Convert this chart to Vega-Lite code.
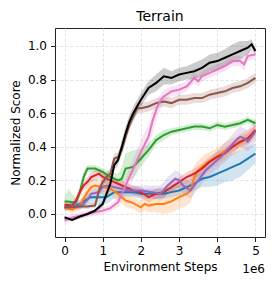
{
  "$schema": "https://vega.github.io/schema/vega-lite/v6.json",
  "width": 210,
  "height": 209,
  "autosize": {"type": "none"},
  "padding": {"left": 55, "top": 28, "right": 10, "bottom": 48},
  "background": "white",
  "title": {"text": "Terrain", "fontSize": 14, "fontWeight": "normal", "font": "DejaVu Sans", "color": "black", "offset": 4},
  "config": {
    "view": {"stroke": "#222", "strokeWidth": 1},
    "axis": {
      "domain": false,
      "grid": true,
      "gridColor": "#dcdcdc",
      "gridDash": [3, 2],
      "gridWidth": 0.8,
      "tickColor": "#222",
      "tickSize": 4.5,
      "labelFont": "DejaVu Sans",
      "labelFontSize": 12,
      "labelColor": "black",
      "titleFont": "DejaVu Sans",
      "titleFontSize": 12,
      "titleFontWeight": "normal",
      "titleColor": "black"
    }
  },
  "datasets": {
    "note": [{"nx": 5.25, "ny": -0.137, "t": "1e6"}],
    "runs": [
    {"s":"l","x":0,"y":0.04,"lo":0.02,"hi":0.06},
    {"s":"l","x":0.2,"y":0.045,"lo":0.025,"hi":0.065},
    {"s":"l","x":0.4,"y":0.06,"lo":0.035,"hi":0.085},
    {"s":"l","x":0.6,"y":0.09,"lo":0.06,"hi":0.12},
    {"s":"l","x":0.7,"y":0.10,"lo":0.06,"hi":0.13},
    {"s":"l","x":0.9,"y":0.10,"lo":0.05,"hi":0.14},
    {"s":"l","x":1.1,"y":0.10,"lo":0.06,"hi":0.14},
    {"s":"l","x":1.3,"y":0.13,"lo":0.09,"hi":0.16},
    {"s":"l","x":1.5,"y":0.13,"lo":0.10,"hi":0.16},
    {"s":"l","x":1.8,"y":0.13,"lo":0.10,"hi":0.16},
    {"s":"l","x":2.0,"y":0.12,"lo":0.09,"hi":0.15},
    {"s":"l","x":2.2,"y":0.12,"lo":0.09,"hi":0.15},
    {"s":"l","x":2.4,"y":0.12,"lo":0.09,"hi":0.15},
    {"s":"l","x":2.6,"y":0.12,"lo":0.09,"hi":0.15},
    {"s":"l","x":2.8,"y":0.13,"lo":0.10,"hi":0.16},
    {"s":"l","x":3.0,"y":0.14,"lo":0.11,"hi":0.17},
    {"s":"l","x":3.2,"y":0.16,"lo":0.12,"hi":0.19},
    {"s":"l","x":3.4,"y":0.18,"lo":0.14,"hi":0.22},
    {"s":"l","x":3.6,"y":0.21,"lo":0.16,"hi":0.25},
    {"s":"l","x":3.8,"y":0.22,"lo":0.16,"hi":0.28},
    {"s":"l","x":4.0,"y":0.24,"lo":0.17,"hi":0.31},
    {"s":"l","x":4.2,"y":0.26,"lo":0.19,"hi":0.33},
    {"s":"l","x":4.4,"y":0.28,"lo":0.20,"hi":0.36},
    {"s":"l","x":4.6,"y":0.30,"lo":0.22,"hi":0.38},
    {"s":"l","x":4.8,"y":0.33,"lo":0.26,"hi":0.40},
    {"s":"l","x":5.0,"y":0.36,"lo":0.30,"hi":0.42},
    {"s":"o","x":0,"y":0.04,"lo":0.02,"hi":0.06},
    {"s":"o","x":0.2,"y":0.025,"lo":0.005,"hi":0.045},
    {"s":"o","x":0.4,"y":0.05,"lo":0.02,"hi":0.08},
    {"s":"o","x":0.5,"y":0.09,"lo":0.05,"hi":0.13},
    {"s":"o","x":0.6,"y":0.13,"lo":0.09,"hi":0.17},
    {"s":"o","x":0.7,"y":0.16,"lo":0.12,"hi":0.20},
    {"s":"o","x":0.8,"y":0.17,"lo":0.13,"hi":0.21},
    {"s":"o","x":1.0,"y":0.16,"lo":0.12,"hi":0.20},
    {"s":"o","x":1.2,"y":0.15,"lo":0.11,"hi":0.19},
    {"s":"o","x":1.4,"y":0.12,"lo":0.08,"hi":0.16},
    {"s":"o","x":1.6,"y":0.08,"lo":0.04,"hi":0.12},
    {"s":"o","x":1.8,"y":0.065,"lo":0.03,"hi":0.10},
    {"s":"o","x":2.0,"y":0.04,"lo":0.00,"hi":0.08},
    {"s":"o","x":2.1,"y":0.06,"lo":0.02,"hi":0.10},
    {"s":"o","x":2.2,"y":0.05,"lo":0.01,"hi":0.10},
    {"s":"o","x":2.4,"y":0.06,"lo":0.01,"hi":0.11},
    {"s":"o","x":2.6,"y":0.06,"lo":0.00,"hi":0.13},
    {"s":"o","x":2.8,"y":0.075,"lo":0.01,"hi":0.15},
    {"s":"o","x":3.0,"y":0.10,"lo":0.03,"hi":0.18},
    {"s":"o","x":3.2,"y":0.12,"lo":0.05,"hi":0.20},
    {"s":"o","x":3.3,"y":0.14,"lo":0.07,"hi":0.22},
    {"s":"o","x":3.4,"y":0.22,"lo":0.14,"hi":0.29},
    {"s":"o","x":3.5,"y":0.26,"lo":0.19,"hi":0.32},
    {"s":"o","x":3.7,"y":0.30,"lo":0.24,"hi":0.36},
    {"s":"o","x":3.9,"y":0.33,"lo":0.28,"hi":0.38},
    {"s":"o","x":4.1,"y":0.36,"lo":0.31,"hi":0.41},
    {"s":"o","x":4.3,"y":0.39,"lo":0.34,"hi":0.44},
    {"s":"o","x":4.5,"y":0.41,"lo":0.36,"hi":0.46},
    {"s":"o","x":4.7,"y":0.44,"lo":0.39,"hi":0.49},
    {"s":"o","x":4.9,"y":0.47,"lo":0.43,"hi":0.51},
    {"s":"o","x":5.0,"y":0.49,"lo":0.45,"hi":0.53},
    {"s":"g","x":0,"y":0.075,"lo":0.05,"hi":0.10},
    {"s":"g","x":0.1,"y":0.075,"lo":0.04,"hi":0.15},
    {"s":"g","x":0.2,"y":0.07,"lo":0.04,"hi":0.12},
    {"s":"g","x":0.3,"y":0.07,"lo":0.05,"hi":0.09},
    {"s":"g","x":0.4,"y":0.13,"lo":0.10,"hi":0.16},
    {"s":"g","x":0.5,"y":0.22,"lo":0.19,"hi":0.25},
    {"s":"g","x":0.6,"y":0.27,"lo":0.25,"hi":0.29},
    {"s":"g","x":0.8,"y":0.27,"lo":0.25,"hi":0.29},
    {"s":"g","x":1.0,"y":0.25,"lo":0.23,"hi":0.27},
    {"s":"g","x":1.2,"y":0.22,"lo":0.20,"hi":0.25},
    {"s":"g","x":1.4,"y":0.20,"lo":0.17,"hi":0.24},
    {"s":"g","x":1.5,"y":0.21,"lo":0.16,"hi":0.28},
    {"s":"g","x":1.6,"y":0.27,"lo":0.20,"hi":0.36},
    {"s":"g","x":1.8,"y":0.28,"lo":0.21,"hi":0.38},
    {"s":"g","x":2.0,"y":0.33,"lo":0.28,"hi":0.39},
    {"s":"g","x":2.2,"y":0.38,"lo":0.34,"hi":0.42},
    {"s":"g","x":2.4,"y":0.44,"lo":0.41,"hi":0.47},
    {"s":"g","x":2.6,"y":0.47,"lo":0.44,"hi":0.50},
    {"s":"g","x":2.8,"y":0.49,"lo":0.47,"hi":0.51},
    {"s":"g","x":3.0,"y":0.50,"lo":0.48,"hi":0.52},
    {"s":"g","x":3.2,"y":0.51,"lo":0.49,"hi":0.53},
    {"s":"g","x":3.4,"y":0.52,"lo":0.50,"hi":0.54},
    {"s":"g","x":3.6,"y":0.52,"lo":0.50,"hi":0.54},
    {"s":"g","x":3.8,"y":0.51,"lo":0.49,"hi":0.53},
    {"s":"g","x":4.0,"y":0.53,"lo":0.51,"hi":0.55},
    {"s":"g","x":4.2,"y":0.52,"lo":0.50,"hi":0.54},
    {"s":"g","x":4.4,"y":0.53,"lo":0.51,"hi":0.55},
    {"s":"g","x":4.6,"y":0.54,"lo":0.52,"hi":0.56},
    {"s":"g","x":4.8,"y":0.56,"lo":0.54,"hi":0.58},
    {"s":"g","x":5.0,"y":0.54,"lo":0.52,"hi":0.56},
    {"s":"r","x":0,"y":0.055,"lo":0.035,"hi":0.075},
    {"s":"r","x":0.2,"y":0.05,"lo":0.03,"hi":0.07},
    {"s":"r","x":0.3,"y":0.08,"lo":0.05,"hi":0.11},
    {"s":"r","x":0.4,"y":0.13,"lo":0.10,"hi":0.16},
    {"s":"r","x":0.5,"y":0.17,"lo":0.14,"hi":0.20},
    {"s":"r","x":0.6,"y":0.19,"lo":0.16,"hi":0.22},
    {"s":"r","x":0.7,"y":0.22,"lo":0.19,"hi":0.25},
    {"s":"r","x":0.8,"y":0.23,"lo":0.20,"hi":0.26},
    {"s":"r","x":0.9,"y":0.24,"lo":0.21,"hi":0.27},
    {"s":"r","x":1.0,"y":0.22,"lo":0.19,"hi":0.25},
    {"s":"r","x":1.2,"y":0.20,"lo":0.17,"hi":0.23},
    {"s":"r","x":1.4,"y":0.18,"lo":0.15,"hi":0.21},
    {"s":"r","x":1.6,"y":0.16,"lo":0.13,"hi":0.19},
    {"s":"r","x":1.8,"y":0.14,"lo":0.11,"hi":0.17},
    {"s":"r","x":2.0,"y":0.13,"lo":0.10,"hi":0.16},
    {"s":"r","x":2.2,"y":0.10,"lo":0.07,"hi":0.13},
    {"s":"r","x":2.4,"y":0.12,"lo":0.09,"hi":0.15},
    {"s":"r","x":2.6,"y":0.13,"lo":0.10,"hi":0.16},
    {"s":"r","x":2.8,"y":0.16,"lo":0.13,"hi":0.19},
    {"s":"r","x":3.0,"y":0.19,"lo":0.16,"hi":0.22},
    {"s":"r","x":3.2,"y":0.22,"lo":0.19,"hi":0.25},
    {"s":"r","x":3.4,"y":0.24,"lo":0.21,"hi":0.27},
    {"s":"r","x":3.6,"y":0.27,"lo":0.24,"hi":0.30},
    {"s":"r","x":3.8,"y":0.31,"lo":0.28,"hi":0.34},
    {"s":"r","x":4.0,"y":0.34,"lo":0.31,"hi":0.37},
    {"s":"r","x":4.2,"y":0.36,"lo":0.33,"hi":0.39},
    {"s":"r","x":4.4,"y":0.40,"lo":0.37,"hi":0.43},
    {"s":"r","x":4.6,"y":0.43,"lo":0.40,"hi":0.46},
    {"s":"r","x":4.8,"y":0.45,"lo":0.42,"hi":0.48},
    {"s":"r","x":5.0,"y":0.50,"lo":0.47,"hi":0.53},
    {"s":"u","x":0,"y":0.04,"lo":0.02,"hi":0.06},
    {"s":"u","x":0.2,"y":0.045,"lo":0.025,"hi":0.065},
    {"s":"u","x":0.4,"y":0.05,"lo":0.03,"hi":0.07},
    {"s":"u","x":0.5,"y":0.06,"lo":0.04,"hi":0.08},
    {"s":"u","x":0.6,"y":0.085,"lo":0.06,"hi":0.11},
    {"s":"u","x":0.7,"y":0.12,"lo":0.09,"hi":0.15},
    {"s":"u","x":0.9,"y":0.13,"lo":0.10,"hi":0.16},
    {"s":"u","x":1.0,"y":0.16,"lo":0.13,"hi":0.19},
    {"s":"u","x":1.1,"y":0.17,"lo":0.14,"hi":0.20},
    {"s":"u","x":1.3,"y":0.16,"lo":0.13,"hi":0.19},
    {"s":"u","x":1.5,"y":0.15,"lo":0.12,"hi":0.18},
    {"s":"u","x":1.7,"y":0.14,"lo":0.11,"hi":0.17},
    {"s":"u","x":2.0,"y":0.14,"lo":0.11,"hi":0.17},
    {"s":"u","x":2.3,"y":0.13,"lo":0.10,"hi":0.17},
    {"s":"u","x":2.5,"y":0.12,"lo":0.08,"hi":0.17},
    {"s":"u","x":2.6,"y":0.14,"lo":0.09,"hi":0.19},
    {"s":"u","x":2.7,"y":0.17,"lo":0.12,"hi":0.22},
    {"s":"u","x":2.9,"y":0.21,"lo":0.16,"hi":0.26},
    {"s":"u","x":3.0,"y":0.20,"lo":0.15,"hi":0.25},
    {"s":"u","x":3.1,"y":0.17,"lo":0.12,"hi":0.22},
    {"s":"u","x":3.3,"y":0.14,"lo":0.09,"hi":0.19},
    {"s":"u","x":3.5,"y":0.20,"lo":0.15,"hi":0.25},
    {"s":"u","x":3.7,"y":0.26,"lo":0.21,"hi":0.31},
    {"s":"u","x":3.9,"y":0.30,"lo":0.25,"hi":0.35},
    {"s":"u","x":4.1,"y":0.34,"lo":0.29,"hi":0.40},
    {"s":"u","x":4.3,"y":0.39,"lo":0.33,"hi":0.45},
    {"s":"u","x":4.5,"y":0.44,"lo":0.38,"hi":0.50},
    {"s":"u","x":4.6,"y":0.46,"lo":0.40,"hi":0.52},
    {"s":"u","x":4.7,"y":0.45,"lo":0.39,"hi":0.51},
    {"s":"u","x":4.8,"y":0.43,"lo":0.37,"hi":0.50},
    {"s":"u","x":5.0,"y":0.49,"lo":0.43,"hi":0.56},
    {"s":"b","x":0,"y":0.04,"lo":0.025,"hi":0.055},
    {"s":"b","x":0.2,"y":0.04,"lo":0.025,"hi":0.055},
    {"s":"b","x":0.4,"y":0.045,"lo":0.03,"hi":0.06},
    {"s":"b","x":0.6,"y":0.045,"lo":0.03,"hi":0.06},
    {"s":"b","x":0.8,"y":0.05,"lo":0.035,"hi":0.065},
    {"s":"b","x":0.9,"y":0.14,"lo":0.11,"hi":0.17},
    {"s":"b","x":1.0,"y":0.19,"lo":0.16,"hi":0.22},
    {"s":"b","x":1.1,"y":0.22,"lo":0.19,"hi":0.25},
    {"s":"b","x":1.2,"y":0.24,"lo":0.21,"hi":0.27},
    {"s":"b","x":1.3,"y":0.33,"lo":0.30,"hi":0.36},
    {"s":"b","x":1.4,"y":0.34,"lo":0.31,"hi":0.37},
    {"s":"b","x":1.5,"y":0.38,"lo":0.35,"hi":0.41},
    {"s":"b","x":1.6,"y":0.46,"lo":0.43,"hi":0.49},
    {"s":"b","x":1.7,"y":0.53,"lo":0.50,"hi":0.56},
    {"s":"b","x":1.8,"y":0.58,"lo":0.55,"hi":0.61},
    {"s":"b","x":1.9,"y":0.63,"lo":0.60,"hi":0.66},
    {"s":"b","x":2.0,"y":0.63,"lo":0.60,"hi":0.66},
    {"s":"b","x":2.2,"y":0.64,"lo":0.61,"hi":0.67},
    {"s":"b","x":2.4,"y":0.66,"lo":0.63,"hi":0.69},
    {"s":"b","x":2.6,"y":0.67,"lo":0.64,"hi":0.70},
    {"s":"b","x":2.8,"y":0.66,"lo":0.63,"hi":0.69},
    {"s":"b","x":3.0,"y":0.68,"lo":0.65,"hi":0.71},
    {"s":"b","x":3.2,"y":0.68,"lo":0.65,"hi":0.71},
    {"s":"b","x":3.4,"y":0.69,"lo":0.66,"hi":0.72},
    {"s":"b","x":3.6,"y":0.69,"lo":0.66,"hi":0.72},
    {"s":"b","x":3.8,"y":0.71,"lo":0.68,"hi":0.74},
    {"s":"b","x":4.0,"y":0.72,"lo":0.69,"hi":0.75},
    {"s":"b","x":4.2,"y":0.73,"lo":0.70,"hi":0.76},
    {"s":"b","x":4.4,"y":0.75,"lo":0.72,"hi":0.78},
    {"s":"b","x":4.6,"y":0.76,"lo":0.73,"hi":0.79},
    {"s":"b","x":4.8,"y":0.78,"lo":0.75,"hi":0.81},
    {"s":"b","x":5.0,"y":0.81,"lo":0.78,"hi":0.84},
    {"s":"p","x":0,"y":-0.04,"lo":-0.06,"hi":-0.02},
    {"s":"p","x":0.2,"y":-0.02,"lo":-0.04,"hi":0.0},
    {"s":"p","x":0.4,"y":-0.01,"lo":-0.03,"hi":0.01},
    {"s":"p","x":0.6,"y":0.0,"lo":-0.02,"hi":0.02},
    {"s":"p","x":0.8,"y":0.01,"lo":-0.01,"hi":0.03},
    {"s":"p","x":1.0,"y":0.02,"lo":0.0,"hi":0.04},
    {"s":"p","x":1.2,"y":0.035,"lo":0.015,"hi":0.055},
    {"s":"p","x":1.4,"y":0.07,"lo":0.04,"hi":0.10},
    {"s":"p","x":1.5,"y":0.12,"lo":0.08,"hi":0.16},
    {"s":"p","x":1.6,"y":0.17,"lo":0.12,"hi":0.22},
    {"s":"p","x":1.8,"y":0.27,"lo":0.21,"hi":0.33},
    {"s":"p","x":2.0,"y":0.37,"lo":0.31,"hi":0.44},
    {"s":"p","x":2.2,"y":0.46,"lo":0.39,"hi":0.53},
    {"s":"p","x":2.3,"y":0.55,"lo":0.48,"hi":0.61},
    {"s":"p","x":2.4,"y":0.62,"lo":0.56,"hi":0.67},
    {"s":"p","x":2.5,"y":0.67,"lo":0.62,"hi":0.71},
    {"s":"p","x":2.6,"y":0.70,"lo":0.66,"hi":0.74},
    {"s":"p","x":2.8,"y":0.73,"lo":0.70,"hi":0.76},
    {"s":"p","x":3.0,"y":0.74,"lo":0.71,"hi":0.77},
    {"s":"p","x":3.2,"y":0.76,"lo":0.73,"hi":0.79},
    {"s":"p","x":3.4,"y":0.81,"lo":0.78,"hi":0.84},
    {"s":"p","x":3.5,"y":0.79,"lo":0.76,"hi":0.82},
    {"s":"p","x":3.6,"y":0.82,"lo":0.79,"hi":0.85},
    {"s":"p","x":3.8,"y":0.84,"lo":0.81,"hi":0.87},
    {"s":"p","x":4.0,"y":0.86,"lo":0.83,"hi":0.89},
    {"s":"p","x":4.2,"y":0.88,"lo":0.85,"hi":0.91},
    {"s":"p","x":4.4,"y":0.91,"lo":0.88,"hi":0.94},
    {"s":"p","x":4.6,"y":0.91,"lo":0.88,"hi":0.94},
    {"s":"p","x":4.7,"y":0.89,"lo":0.85,"hi":0.93},
    {"s":"p","x":4.8,"y":0.94,"lo":0.91,"hi":0.97},
    {"s":"p","x":5.0,"y":0.95,"lo":0.92,"hi":0.98},
    {"s":"k","x":0,"y":-0.02,"lo":-0.03,"hi":-0.01},
    {"s":"k","x":0.2,"y":-0.035,"lo":-0.045,"hi":-0.025},
    {"s":"k","x":0.4,"y":-0.015,"lo":-0.025,"hi":-0.005},
    {"s":"k","x":0.6,"y":0.0,"lo":-0.01,"hi":0.01},
    {"s":"k","x":0.8,"y":0.02,"lo":0.01,"hi":0.03},
    {"s":"k","x":1.0,"y":0.06,"lo":0.04,"hi":0.08},
    {"s":"k","x":1.2,"y":0.18,"lo":0.15,"hi":0.21},
    {"s":"k","x":1.3,"y":0.29,"lo":0.26,"hi":0.32},
    {"s":"k","x":1.4,"y":0.32,"lo":0.29,"hi":0.35},
    {"s":"k","x":1.5,"y":0.40,"lo":0.36,"hi":0.44},
    {"s":"k","x":1.6,"y":0.48,"lo":0.44,"hi":0.52},
    {"s":"k","x":1.7,"y":0.55,"lo":0.51,"hi":0.59},
    {"s":"k","x":1.8,"y":0.60,"lo":0.56,"hi":0.64},
    {"s":"k","x":2.0,"y":0.68,"lo":0.64,"hi":0.72},
    {"s":"k","x":2.2,"y":0.75,"lo":0.71,"hi":0.79},
    {"s":"k","x":2.4,"y":0.78,"lo":0.73,"hi":0.83},
    {"s":"k","x":2.6,"y":0.82,"lo":0.77,"hi":0.87},
    {"s":"k","x":2.8,"y":0.81,"lo":0.77,"hi":0.85},
    {"s":"k","x":3.0,"y":0.83,"lo":0.79,"hi":0.87},
    {"s":"k","x":3.2,"y":0.84,"lo":0.80,"hi":0.88},
    {"s":"k","x":3.4,"y":0.85,"lo":0.80,"hi":0.90},
    {"s":"k","x":3.6,"y":0.87,"lo":0.82,"hi":0.92},
    {"s":"k","x":3.8,"y":0.90,"lo":0.85,"hi":0.95},
    {"s":"k","x":4.0,"y":0.91,"lo":0.86,"hi":0.96},
    {"s":"k","x":4.2,"y":0.93,"lo":0.88,"hi":0.98},
    {"s":"k","x":4.4,"y":0.95,"lo":0.90,"hi":1.01},
    {"s":"k","x":4.6,"y":0.97,"lo":0.92,"hi":1.03},
    {"s":"k","x":4.8,"y":0.99,"lo":0.95,"hi":1.03},
    {"s":"k","x":4.9,"y":1.01,"lo":0.98,"hi":1.04},
    {"s":"k","x":5.0,"y":0.97,"lo":0.95,"hi":0.99}
  ]},
  "layer": [
    {"data": {"name": "runs"},
      "mark": {"type": "area", "opacity": 0.2},
      "encoding": {
        "x": {"field": "x", "type": "quantitative",
          "scale": {"domain": [-0.25, 5.25], "nice": false, "zero": false},
          "axis": {"title": "Environment Steps", "values": [0, 1, 2, 3, 4, 5], "format": "d", "labelPadding": 4, "titlePadding": 5}},
        "y": {"field": "lo", "type": "quantitative",
          "scale": {"domain": [-0.137, 1.107], "nice": false, "zero": false},
          "axis": {"title": "Normalized Score", "values": [0, 0.2, 0.4, 0.6, 0.8, 1.0], "format": ".1f", "labelPadding": 4, "titlePadding": 5}},
        "y2": {"field": "hi"},
        "color": {"field": "s", "type": "nominal", "legend": null,
          "scale": {"domain": ["l", "o", "g", "r", "u", "b", "p", "k"],
            "range": ["#1f77b4", "#ff7f0e", "#2ca02c", "#d62728", "#9467bd", "#8c564b", "#e377c2", "#000000"]}}
      }},
    {"data": {"name": "runs"},
      "mark": {"type": "line", "strokeWidth": 2},
      "encoding": {
        "x": {"field": "x", "type": "quantitative"},
        "y": {"field": "y", "type": "quantitative"},
        "color": {"field": "s", "type": "nominal", "legend": null}}},
    {"data": {"name": "note"},
      "mark": {"type": "text", "align": "right", "baseline": "alphabetic", "dy": 36, "font": "DejaVu Sans", "fontSize": 12, "fill": "black"},
      "encoding": {
        "x": {"field": "nx", "type": "quantitative"},
        "y": {"field": "ny", "type": "quantitative"},
        "text": {"field": "t", "type": "nominal"}}}
  ]
}
